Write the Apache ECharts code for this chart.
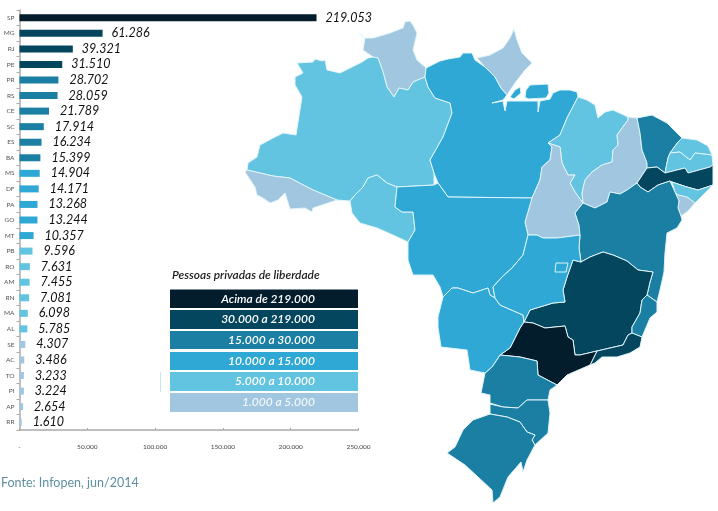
<!DOCTYPE html>
<html><head><meta charset="utf-8">
<style>html,body{margin:0;padding:0;background:#fff}#c{width:718px;height:511px}</style>
<script src="https://cdn.jsdelivr.net/npm/echarts@6/dist/echarts.min.js"></script>
</head><body><div id="c"></div>
<script>
const categories = ['SP','MG','RJ','PE','PR','RS','CE','SC','ES','BA','MS','DF','PA','GO','MT','PB','RO','AM','RN','MA','AL','SE','AC','TO','PI','AP','RR'];
const values = [219053,61286,39321,31510,28702,28059,21789,17914,16234,15399,14904,14171,13268,13244,10357,9596,7631,7455,7081,6098,5785,4307,3486,3233,3224,2654,1610];
const xTicks = [0,50000,100000,150000,200000,250000];
const bandLabels = ['Acima de 219.000','30.000 a 219.000','15.000 a 30.000','10.000 a 15.000','5.000 a 10.000','1.000 a 5.000'];
const bandFloors = [219000,30000,15000,10000,5000,1000];
const bandColors = ['#031d2d','#05465f','#1a7fa3','#2fa8d5','#62c4e0','#a1c6e0'];

// State outlines (traced map geography)
const geoRR = [[359,33],[365,38],[373,38],[390,33],[403,28],[405,22],[410,21],[413,25],[417,33],[413,50],[417,60],[426,68],[425,77],[413,82],[408,90],[399,88],[394,97],[387,87],[383,72],[378,58],[373,57],[363,50],[365,38]];
const geoAM = [[297,63],[313,62],[315,59],[322,61],[325,60],[327,70],[340,73],[352,67],[362,62],[368,58],[373,57],[378,58],[383,72],[387,87],[394,97],[399,88],[408,90],[413,82],[425,77],[428,87],[435,98],[450,103],[452,113],[443,137],[430,160],[434,173],[434,185],[397,187],[387,183],[377,175],[368,178],[363,187],[355,195],[350,201],[337,200],[313,190],[290,178],[273,176],[247,170],[248,163],[257,157],[260,145],[273,138],[283,133],[296,135],[302,97],[295,85],[295,77],[303,73]];
const geoAC = [[245,172],[247,170],[273,176],[290,178],[313,190],[337,200],[313,208],[312,212],[305,208],[290,209],[285,193],[278,200],[270,203],[263,198],[257,195],[255,187]];
const geoRO = [[350,201],[355,195],[363,187],[368,178],[377,175],[387,183],[397,187],[395,207],[402,212],[413,212],[415,230],[408,242],[393,235],[377,228],[360,223],[352,213]];
const geoPA = [[426,68],[440,61],[448,59],[460,57],[463,53],[472,53],[475,60],[485,67],[495,77],[501,88],[507,95],[503,100],[492,103],[503,101],[505,111],[507,101],[522,101],[538,101],[538,112],[540,101],[550,99],[553,93],[560,90],[570,90],[577,92],[578,97],[567,118],[560,135],[548,143],[552,147],[550,160],[542,167],[540,180],[532,198],[448,197],[438,183],[434,173],[430,160],[443,137],[452,113],[450,103],[435,98],[428,87],[425,77]];
const geoPAi1 = [[510,97],[515,90],[520,87],[521,93],[514,99]];
const geoPAi2 = [[526,90],[530,85],[548,84],[549,93],[546,98],[528,99],[525,97]];
const geoAP = [[477,58],[490,55],[503,48],[510,38],[514,29],[517,40],[522,53],[532,63],[525,70],[515,83],[507,95],[501,88],[495,77],[485,67]];
const geoMA = [[578,97],[587,100],[595,105],[598,118],[605,112],[613,110],[628,117],[628,120],[617,135],[618,145],[613,150],[612,162],[602,165],[592,172],[585,180],[582,193],[583,203],[575,192],[570,183],[575,175],[568,175],[562,163],[560,147],[548,143],[560,135],[567,118]];
const geoTO = [[548,143],[560,147],[562,163],[568,175],[575,175],[570,183],[575,192],[583,203],[575,213],[579,225],[580,235],[557,238],[543,238],[537,235],[528,235],[525,222],[532,198],[540,180],[542,167],[550,160],[552,147]];
const geoPI = [[628,117],[637,118],[640,133],[642,150],[647,163],[647,168],[637,183],[627,190],[620,194],[610,192],[607,202],[595,208],[583,203],[582,193],[585,180],[592,172],[602,165],[612,162],[613,150],[618,145],[617,135],[628,120]];
const geoCE = [[637,118],[652,115],[667,123],[682,138],[678,142],[670,153],[668,158],[665,173],[657,167],[647,168],[647,163],[642,150],[640,133]];
const geoRN = [[682,138],[697,140],[708,146],[712,155],[695,153],[690,160],[680,152],[670,153],[678,142]];
const geoPB = [[670,153],[680,152],[690,160],[695,153],[712,155],[713,165],[710,167],[688,173],[685,168],[665,173],[668,158]];
const geoPE = [[647,168],[657,167],[665,173],[685,168],[688,173],[710,167],[713,165],[713,185],[698,190],[687,187],[672,182],[670,181],[658,185],[648,192],[640,187],[637,183]];
const geoAL = [[672,182],[687,187],[698,190],[713,185],[705,193],[695,203],[687,197],[678,195],[675,192]];
const geoSE = [[675,192],[678,195],[687,197],[695,203],[688,211],[681,216],[678,208],[679,201]];
const geoBA = [[583,203],[595,208],[607,202],[610,192],[620,194],[627,190],[637,183],[640,187],[648,192],[658,185],[670,181],[675,192],[679,201],[678,208],[681,216],[682,220],[677,228],[667,233],[665,253],[664,272],[660,290],[657,302],[647,295],[650,282],[653,272],[638,270],[627,261],[613,255],[603,252],[590,257],[581,262],[579,248],[580,235],[579,225],[575,213]];
const geoMG = [[581,262],[590,257],[603,252],[613,255],[627,261],[638,270],[653,272],[650,282],[647,295],[642,300],[640,313],[632,327],[632,333],[628,335],[623,345],[597,351],[580,355],[575,355],[573,340],[568,337],[565,326],[545,328],[533,323],[524,322],[530,310],[553,303],[565,302],[563,290],[567,277],[573,260]];
const geoES = [[647,295],[657,302],[657,312],[650,318],[642,337],[632,333],[632,327],[640,313],[642,300]];
const geoRJ = [[597,351],[623,345],[628,335],[632,333],[642,337],[640,347],[630,353],[617,357],[602,357],[595,363],[590,365]];
const geoSP = [[500,355],[510,348],[520,328],[524,322],[533,323],[545,328],[565,326],[568,337],[573,340],[575,355],[580,355],[597,351],[590,365],[567,375],[557,385],[538,375],[537,361],[520,357]];
const geoPR = [[500,355],[520,357],[537,361],[538,375],[557,385],[550,390],[548,400],[527,400],[518,408],[503,407],[490,403],[490,395],[481,393],[485,373],[492,367]];
const geoSC = [[490,404],[503,407],[518,408],[527,400],[548,400],[550,413],[548,433],[535,445],[532,440],[535,435],[527,432],[520,422],[507,417],[490,414]];
const geoRS = [[490,414],[507,417],[520,422],[527,432],[535,435],[532,440],[535,445],[527,460],[523,472],[521,462],[508,477],[500,497],[493,503],[492,490],[478,477],[465,465],[447,453],[455,447],[463,430],[473,420]];
const geoMT = [[397,187],[434,185],[438,183],[448,197],[532,198],[525,222],[528,235],[523,255],[512,268],[502,277],[493,287],[495,298],[490,295],[488,288],[473,293],[458,288],[452,288],[443,297],[440,287],[433,275],[413,275],[408,260],[408,242],[415,230],[413,212],[402,212],[395,207]];
const geoMS = [[443,297],[452,288],[458,288],[473,293],[488,288],[490,295],[495,298],[500,305],[523,315],[524,322],[520,328],[510,348],[500,355],[492,367],[485,373],[470,370],[467,350],[441,347],[438,327],[438,317]];
const geoGO = [[528,235],[537,235],[543,238],[557,238],[580,235],[579,248],[581,262],[573,260],[567,277],[563,290],[565,302],[553,303],[530,310],[524,322],[523,315],[500,305],[495,298],[493,287],[502,277],[512,268],[523,255]];
const geoDF = [[556,263],[568,263],[566,272],[555,272]];

const shapes = {RR:[geoRR],AM:[geoAM],AC:[geoAC],RO:[geoRO],PA:[geoPA,geoPAi1,geoPAi2],AP:[geoAP],MA:[geoMA],TO:[geoTO],PI:[geoPI],CE:[geoCE],RN:[geoRN],PB:[geoPB],PE:[geoPE],AL:[geoAL],SE:[geoSE],BA:[geoBA],MG:[geoMG],ES:[geoES],RJ:[geoRJ],SP:[geoSP],PR:[geoPR],SC:[geoSC],RS:[geoRS],MT:[geoMT],MS:[geoMS],GO:[geoGO],DF:[geoDF]};

const features = Object.keys(shapes).map(n => ({
  type:'Feature', properties:{name:n},
  geometry:{type:'MultiPolygon', coordinates:shapes[n].map(r => [r.concat([r[0]])])}
}));
echarts.registerMap('br',{type:'FeatureCollection',features});

const colorOf = v => bandColors[bandFloors.findIndex(f => v >= f)];
const fmt = v => v === 0 ? '-' : String(v).replace(/\B(?=(\d{3})+$)/g,'.');

const graphics = [];
graphics.push({type:'text',left:172,top:269,style:{text:'Pessoas privadas de liberdade',font:'italic 600 11.9px Lato',fill:'#222'}});
const legY = [[289.5,308],[310,329],[331,349],[352,370],[372,391],[393,412]];
bandLabels.forEach((t,i)=>{
  graphics.push({type:'rect',shape:{x:170,y:legY[i][0],width:188,height:legY[i][1]-legY[i][0]},style:{fill:bandColors[i]}});
  graphics.push({type:'text',x:315,y:(legY[i][0]+legY[i][1])/2,style:{text:t,x:0,y:0,align:'right',verticalAlign:'middle',font:'italic 600 12px Lato',fill:'#fff',opacity:i==5?0.85:1}});
});
graphics.push({type:'line',shape:{x1:160.5,y1:372,x2:160.5,y2:392},style:{stroke:'#c4e6ee',lineWidth:1}});
graphics.push({type:'text',left:1,top:476,style:{text:'Fonte: Infopen, jun/2014',font:'12.5px Lato',fill:'#5f8fa3'}});

const chart = echarts.init(document.getElementById('c'),null,{renderer:'canvas'});
chart.setOption({
  animation:false,
  grid:{left:19.5,right:359.5,top:10,bottom:81,containLabel:false},
  xAxis:{type:'value',min:0,max:250000,interval:50000,splitLine:{show:false},
    axisLine:{show:true,lineStyle:{color:'#aaa',width:1.5}},
    axisTick:{show:true,inside:true,length:2,lineStyle:{color:'#aaa'}},
    axisLabel:{color:'#444',fontFamily:'Lato',fontSize:6.5,margin:13,formatter:fmt,customValues:xTicks}},
  yAxis:{type:'category',inverse:true,data:categories,
    axisLine:{show:true,lineStyle:{color:'#aaa',width:1.5}},
    axisTick:{show:true,length:3,lineStyle:{color:'#aaa'}},
    axisLabel:{color:'#555',fontFamily:'Lato',fontSize:6.5,margin:5,interval:0}},
  series:[
    {type:'bar',barWidth:7,
     data:values.map(v=>({value:v,itemStyle:{color:colorOf(v)},label:{distance:v>30000?9:11}})),
     label:{show:true,position:'right',fontFamily:'Lato',fontStyle:'italic',fontSize:12.5,color:'#111',formatter:p=>fmt(p.value)}},
    {type:'map',map:'br',silent:true,left:0,top:0,width:718,height:511,
     projection:{project:p=>[p[0],p[1]],unproject:p=>[p[0],p[1]]},
     boundingCoords:[[0,0],[718,511]],
     label:{show:false},
     itemStyle:{borderColor:'#dff4f9',borderWidth:1},
     data:categories.map((n,i)=>({name:n,value:values[i],itemStyle:{areaColor:colorOf(values[i])}}))}
  ],
  graphic:graphics
});
</script></body></html>
